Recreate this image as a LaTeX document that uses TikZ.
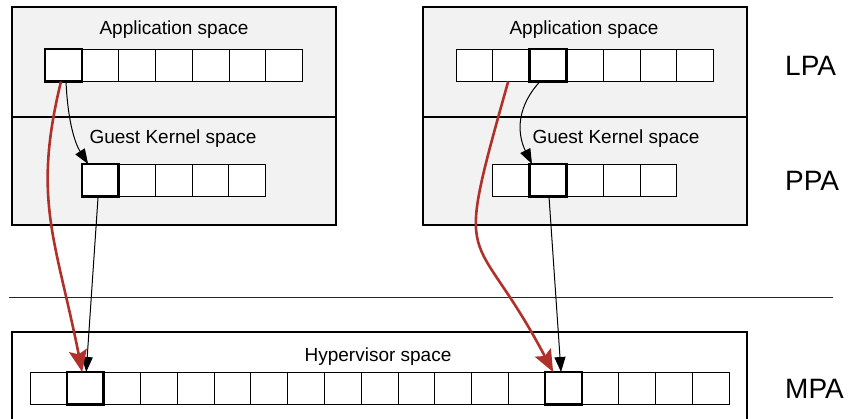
\documentclass[tikz,border=0pt]{standalone}
\usepackage{fontspec}
\setmainfont{Liberation Sans}
\usetikzlibrary{arrows.meta,calc}
\definecolor{boxgray}{HTML}{F2F2F2}
\definecolor{arrred}{HTML}{B0302A}
\begin{document}
\begin{tikzpicture}[x=1pt,y=-1pt,
  spacebox/.style={draw=black,fill=boxgray,line width=1.3pt,inner sep=0pt,outer sep=0pt,anchor=north west,minimum width=324pt},
  hvbox/.style={draw=black,fill=white,line width=1.3pt,inner sep=0pt,outer sep=0pt,anchor=north west},
  cell/.style={draw=black,fill=white,line width=1pt,inner sep=0pt,outer sep=0pt,anchor=north west,minimum width=36.8pt,minimum height=32.5pt},
  hl/.style={draw=black,line width=2.4pt},
  lbl/.style={font=\fontsize{19}{22}\selectfont,anchor=base,inner sep=0pt},
  biglbl/.style={font=\fontsize{28}{32}\selectfont,anchor=base west,inner sep=0pt},
  blackarrow/.style={draw=black,line width=1pt,-{Triangle[length=15pt,width=11pt]}},
  redarrow/.style={draw=arrred,line width=2.6pt,-{Stealth[length=22pt,width=18pt,inset=4pt]}}
]
\clip (0,0) rectangle (848,418);
% boxes
\node[spacebox,minimum height=110pt] (lapp) at (12,7) {};
\node[spacebox,minimum height=108pt] (lker) at (12,117) {};
\node[spacebox,minimum height=110pt] (rapp) at (423,7) {};
\node[spacebox,minimum height=108pt] (rker) at (423,117) {};
\node[hvbox,minimum width=735pt,minimum height=120pt] (hyp) at (12,332) {};
% divider
\coordinate (dl) at (9,297);
\coordinate (dr) at (833,297);
\draw[line width=0.9pt,black!85] (dl) -- (dr);
% labels
\node[lbl] (tla) at (174,34.5) {Application space};
\node[lbl] (tra) at (584,34.5) {Application space};
\node[lbl] (tlk) at (173,143) {Guest Kernel space};
\node[lbl] (trk) at (616,143) {Guest Kernel space};
\node[lbl] (thv) at (378,361) {Hypervisor space};
\node[biglbl] (lpa) at (785,75) {LPA};
\node[biglbl] (ppa) at (785,190) {PPA};
\node[biglbl] (mpa) at (785,398) {MPA};
% cells
\foreach \i in {0,...,6} {
  \node[cell] (la\i) at ({45+\i*36.8},49) {};
  \node[cell] (ra\i) at ({456+\i*36.8},49) {};
}
\foreach \i in {0,...,4} {
  \node[cell] (lk\i) at ({81.7+\i*36.8},164) {};
  \node[cell] (rk\i) at ({492.8+\i*36.8},164) {};
}
\foreach \i in {0,...,18} {
  \node[cell] (hv\i) at ({30+\i*36.8},372) {};
}
% highlighted cells
\draw[hl] (la0.north west) rectangle (la0.south east);
\draw[hl] (ra2.north west) rectangle (ra2.south east);
\draw[hl] (lk0.north west) rectangle (lk0.south east);
\draw[hl] (rk1.north west) rectangle (rk1.south east);
\draw[hl] (hv1.north west) rectangle (hv1.south east);
\draw[hl] (hv14.north west) rectangle (hv14.south east);
% arrows left
\draw[blackarrow] ($(la0.south)+(2.6,0)$) .. controls (68,125) and (76,145) .. ($(lk0.north)+(-12,0)$);
\draw[blackarrow] ($(lk0.south)+(-2,0)$) -- ($(hv1.north)+(1,0)$);
\draw[redarrow] ($(la0.south)+(-2.4,0)$) .. controls (32,200) and (56,240) .. ($(hv1.north)+(-3,0)$);
% arrows right
\draw[blackarrow] ($(ra2.south)+(-8,0)$) .. controls (512,112) and (520,140) .. ($(rk1.north)+(-16,0)$);
\draw[blackarrow] ($(rk1.south)+(1,0)$) -- ($(hv14.north)+(-2.6,0)$);
\draw[redarrow] ($(ra1.south)+(-3,0)$) .. controls (452,281) and (472,218) .. ($(hv14.north)+(-10.5,0)$);
\end{tikzpicture}
\end{document}
